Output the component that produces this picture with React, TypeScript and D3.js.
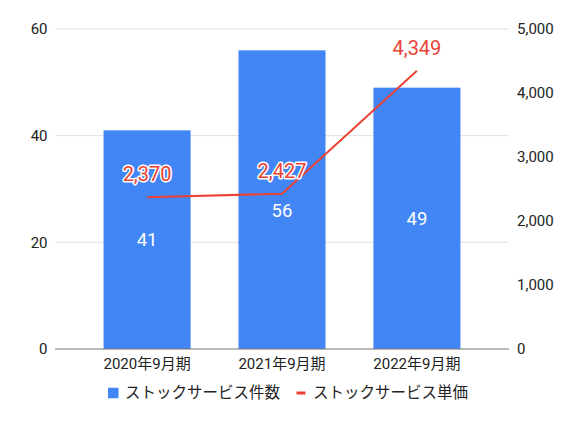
import * as React from 'react';
import * as d3 from 'd3';

const categories = ['2020年9月期', '2021年9月期', '2022年9月期'];
const counts = [41, 56, 49];
const unitPrices = [2370, 2427, 4349];
const leftTicks = [0, 20, 40, 60];
const rightTicks = [0, 1000, 2000, 3000, 4000, 5000];
const seriesNames = ['ストックサービス件数', 'ストックサービス単価'];

const W = 577;
const H = 423;
const margin = { top: 29, right: 68, bottom: 74, left: 55 };
const BLUE = '#4285f4';
const RED = '#ea4335';
const FONT = "Roboto, 'Noto Sans CJK JP', sans-serif";

export default function App() {
  const x = d3.scaleBand<string>()
    .domain(categories)
    .range([margin.left, W - margin.right])
    .paddingInner(0.355)
    .paddingOuter(0.36);
  const yL = d3.scaleLinear().domain([0, 60]).range([H - margin.bottom, margin.top]);
  const yR = d3.scaleLinear().domain([0, 5000]).range([H - margin.bottom, margin.top]);
  const cx = (c: string) => (x(c) ?? 0) + x.bandwidth() / 2;

  const line = d3.line<number>()
    .x((_, i) => cx(categories[i]))
    .y(d => yR(d));

  const fmt = d3.format(',');
  const lineLabelY = unitPrices.map(v => yR(v) - 23);

  return (
    <svg width={W} height={H} style={{ position: 'absolute', left: 0, top: 0, fontFamily: FONT }}>
      <rect width={W} height={H} fill="#fff" />
      {leftTicks.filter(t => t > 0).map(t => (
        <line key={t} x1={margin.left} x2={W - margin.right} y1={yL(t)} y2={yL(t)} stroke="#e0e0e0" strokeWidth={1} />
      ))}
      {leftTicks.map(t => (
        <text key={t} x={47.5} y={yL(t)} dy="0.35em" textAnchor="end" fontSize={15} fill="#222">{t}</text>
      ))}
      {rightTicks.map(t => (
        <text key={t} x={517} y={yR(t)} dy="0.35em" textAnchor="start" fontSize={15} fill="#222">{fmt(t)}</text>
      ))}
      {categories.map((c, i) => (
        <rect key={c} x={x(c)} y={yL(counts[i])} width={x.bandwidth()} height={yL(0) - yL(counts[i])} fill={BLUE} />
      ))}
      <line x1={margin.left} x2={W - margin.right} y1={yL(0)} y2={yL(0)} stroke="#757575" strokeWidth={1} />
      {categories.map(c => (
        <text key={c} x={cx(c)} y={364} dy="0.35em" textAnchor="middle" fontSize={15} fill="#222">{c}</text>
      ))}
      {categories.map((c, i) => {
        let y = (yL(counts[i]) + yL(0)) / 2;
        if (Math.abs(y - lineLabelY[i]) < 40) y = lineLabelY[i] + 40;
        return (
          <text key={c} x={cx(c)} y={y} dy="0.35em" textAnchor="middle" fontSize={18.5} fill="#fff">{counts[i]}</text>
        );
      })}
      <path d={line(unitPrices) ?? ''} fill="none" stroke={RED} strokeWidth={2} />
      {categories.map((c, i) => (
        <text key={c} x={cx(c)} y={lineLabelY[i]} dy="0.35em" textAnchor="middle" fontSize={20} fill={RED}
          stroke="#fff" strokeWidth={3} paintOrder="stroke" strokeLinejoin="round">{fmt(unitPrices[i])}</text>
      ))}
      <g transform="translate(0,393)">
        <rect x={108} y={-5.25} width={10.5} height={10.5} fill={BLUE} />
        <text x={125} y={0} dy="0.35em" fontSize={15.5} fill="#222">{seriesNames[0]}</text>
        <rect x={296.5} y={-1.5} width={9} height={3} fill={RED} />
        <text x={313} y={0} dy="0.35em" fontSize={15.5} fill="#222">{seriesNames[1]}</text>
      </g>
    </svg>
  );
}
